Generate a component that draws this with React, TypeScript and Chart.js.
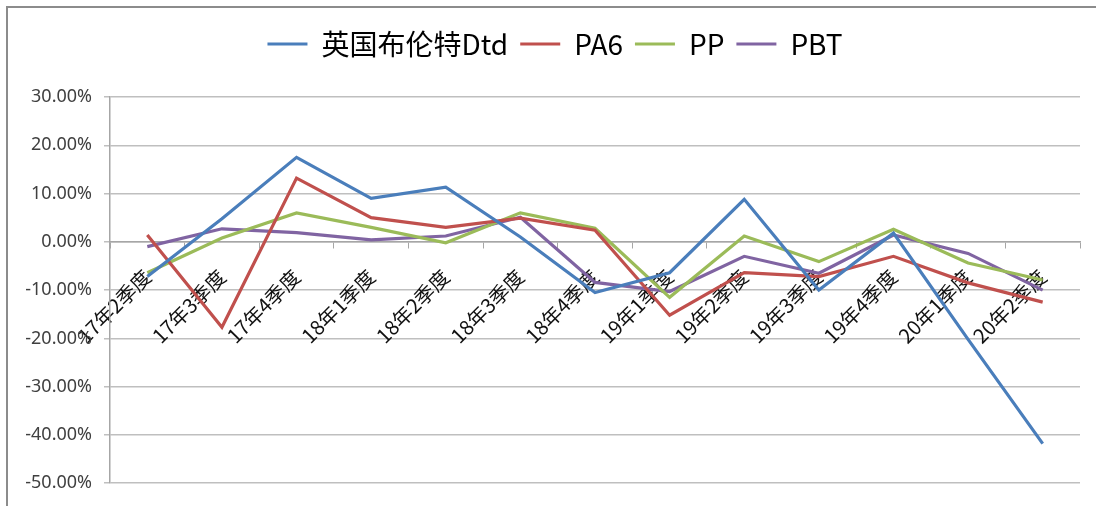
import React, { useEffect, useRef } from "react";
import { Chart, registerables } from "chart.js";

Chart.register(...registerables);

const categories = [
  "17年2季度", "17年3季度", "17年4季度", "18年1季度", "18年2季度", "18年3季度", "18年4季度",
  "19年1季度", "19年2季度", "19年3季度", "19年4季度", "20年1季度", "20年2季度",
];
const brentDtd = [-7.2, 4.8, 17.5, 9.0, 11.3, 1.0, -10.5, -6.4, 8.8, -10.0, 1.8, -20.2, -41.8];
const pa6 = [1.4, -17.7, 13.2, 5.0, 3.0, 4.9, 2.4, -15.2, -6.4, -7.2, -3.0, -8.5, -12.5];
const pp = [-6.4, 0.8, 6.0, 3.0, -0.2, 6.0, 2.8, -11.5, 1.2, -4.1, 2.6, -4.4, -7.9];
const pbt = [-1.0, 2.7, 1.9, 0.4, 1.2, 5.1, -8.4, -10.3, -3.0, -6.5, 1.4, -2.4, -10.0];
const seriesNames = ["英国布伦特Dtd", "PA6", "PP", "PBT"];
const seriesColors = ["#4a7ebb", "#c0504d", "#9bbb59", "#8064a2"];
const yMin = -50;
const yMax = 30;
const yStep = 10;

const legendTweak = {
  id: "legendTweak",
  beforeInit(chart: any) {
    const legend = chart.legend;
    if (!legend) return;
    const orig = legend.fit;
    legend.fit = function () {
      orig.call(this);
      this.height += 29;
    };
  },
  afterLayout(chart: any) {
    const legend = chart.legend;
    if (!legend) return;
    legend.left += 10;
    legend.right += 10;
  },
};

export default function App() {
  const ref = useRef<HTMLCanvasElement | null>(null);
  useEffect(() => {
    if (!ref.current) return;
    const all = [brentDtd, pa6, pp, pbt];
    const chart = new Chart(ref.current, {
      type: "line",
      data: {
        labels: categories,
        datasets: all.map((d, i) => ({
          label: seriesNames[i],
          data: d,
          borderColor: seriesColors[i],
          backgroundColor: seriesColors[i],
          borderWidth: 3.2,
          pointRadius: 0,
          tension: 0,
          fill: false,
        })),
      },
      plugins: [legendTweak],
      options: {
        responsive: false,
        animation: false,
        layout: { padding: { top: 18, left: 10, right: 16, bottom: 22 } },
        plugins: {
          legend: {
            display: true,
            position: "top",
            labels: {
              usePointStyle: true,
              pointStyle: "line",
              pointStyleWidth: 40,
              boxHeight: 20,
              padding: 12,
              color: "#000",
              font: { family: "'Noto Sans CJK SC', 'Noto Sans'", size: 28 },
            },
          },
          tooltip: { enabled: false },
        },
        scales: {
          x: {
            type: "category",
            position: { y: 0 } as any,
            offset: true,
            grid: {
              offset: true,
              drawOnChartArea: false,
              drawTicks: true,
              tickLength: 6,
              color: "#a6a6a6",
            },
            border: { display: true, color: "#a6a6a6", width: 1.5 },
            ticks: {
              autoSkip: false,
              minRotation: 45,
              maxRotation: 45,
              padding: 17,
              color: "#111",
              font: { family: "'Noto Sans CJK SC', 'Noto Sans'", size: 20 },
            },
          },
          y: {
            min: yMin,
            max: yMax,
            afterFit: (s: any) => {
              s.width = 100;
            },
            grid: {
              color: "#bfbfbf",
              lineWidth: 1.5,
              tickLength: 6,
              drawTicks: true,
            },
            border: { display: true, color: "#a6a6a6", width: 1.5 },
            ticks: {
              stepSize: yStep,
              padding: 12,
              color: "#404040",
              font: { family: "'Noto Sans'", size: 18 },
              callback: (v: any) => Number(v).toFixed(2) + "%",
            },
          },
        },
      },
    });
    return () => chart.destroy();
  }, []);
  return (
    <div style={{ position: "absolute", left: 0, top: 0, width: 1096, height: 506, overflow: "hidden", background: "#fff" }}>
      <div
        style={{
          position: "absolute",
          left: 6,
          top: 6,
          width: 1090,
          height: 500,
          borderTop: "2px solid #8c8c8c",
          borderLeft: "2px solid #8c8c8c",
          boxSizing: "border-box",
        }}
      />
      <canvas ref={ref} width={1096} height={506} style={{ position: "absolute", left: 0, top: 0, width: 1096, height: 506 }} />
    </div>
  );
}
